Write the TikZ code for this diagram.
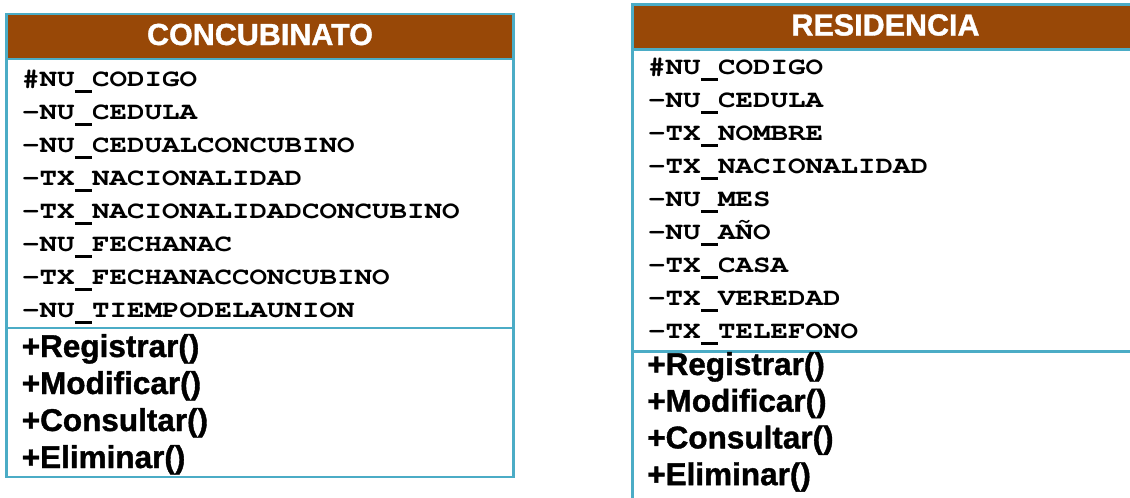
\documentclass[tikz,border=0pt]{standalone}
\usepackage{fontspec}
\setmainfont{Liberation Sans}[BoldFeatures={FakeBold=1.2}]
\newfontfamily\attrfont{texgyrecursor}[Extension=.otf, UprightFont=*-regular, BoldFont=*-bold, FakeStretch=1.19]
\definecolor{umlteal}{HTML}{4BACC6}
\definecolor{umlbrown}{HTML}{984807}
\newcommand\usc{\makebox[17.49pt]{\rule[-6.5pt]{17pt}{2.2pt}}}

\begin{document}
\begin{tikzpicture}[
            x=1pt, y=-1pt,
            compart/.style={draw=umlteal, line width=2.5pt, outer sep=0pt, inner sep=0pt, anchor=north west},
            header/.style={compart, fill=umlbrown, text=white, font=\fontsize{30.5}{36}\selectfont\bfseries, text height=22pt, text depth=5pt, minimum height=45pt},
            attr/.style={anchor=base west, inner sep=0pt, font=\fontsize{24.5}{28}\attrfont\bfseries},
            meth/.style={anchor=base west, inner sep=0pt, font=\fontsize{31.5}{36}\selectfont\bfseries}
        ]
        \useasboundingbox (0,0) rectangle (1130,498);
        \clip (0,0) rectangle (1130,498);
        % CONCUBINATO
        \node[header, minimum width=507pt] (conhead) at (6.5,14) {CONCUBINATO};
        \node[compart, minimum width=507pt, minimum height=269pt] (conattr) at (conhead.south west) {};
        \node[compart, minimum width=507pt, minimum height=149pt] (conmeth) at (conattr.south west) {};
        \foreach \txt [count=\i from 0] in {\#NU\usc CODIGO, -NU\usc CEDULA, -NU\usc CEDUALCONCUBINO, -TX\usc NACIONALIDAD,
            -TX\usc NACIONALIDADCONCUBINO, -NU\usc FECHANAC, -TX\usc FECHANACCONCUBINO, -NU\usc TIEMPODELAUNION}
            \node[attr] (cona\i) at (22,{86+33*\i}) {\txt};
        \foreach \txt [count=\i from 0] in {+Registrar(), +Modificar(), +Consultar(), +Eliminar()}
            \node[meth] (conm\i) at (21.5,{357+37*\i}) {\txt};
        % RESIDENCIA
        \node[header, minimum width=506pt] (reshead) at (632.5,4.5) {RESIDENCIA};
        \node[compart, minimum width=506pt, minimum height=302pt] (resattr) at (reshead.south west) {};
        \node[compart, minimum width=506pt, minimum height=190pt] (resmeth) at (resattr.south west) {};
        \foreach \txt [count=\i from 0] in {\#NU\usc CODIGO, -NU\usc CEDULA, -TX\usc NOMBRE, -TX\usc NACIONALIDAD,
            -NU\usc MES, -NU\usc AÑO, -TX\usc CASA, -TX\usc VEREDAD, -TX\usc TELEFONO}
            \node[attr] (resa\i) at (648,{74+33*\i}) {\txt};
        \foreach \txt [count=\i from 0] in {+Registrar(), +Modificar(), +Consultar(), +Eliminar()}
            \node[meth] (resm\i) at (647,{375+36.7*\i}) {\txt};
        \end{tikzpicture}
\end{document}
